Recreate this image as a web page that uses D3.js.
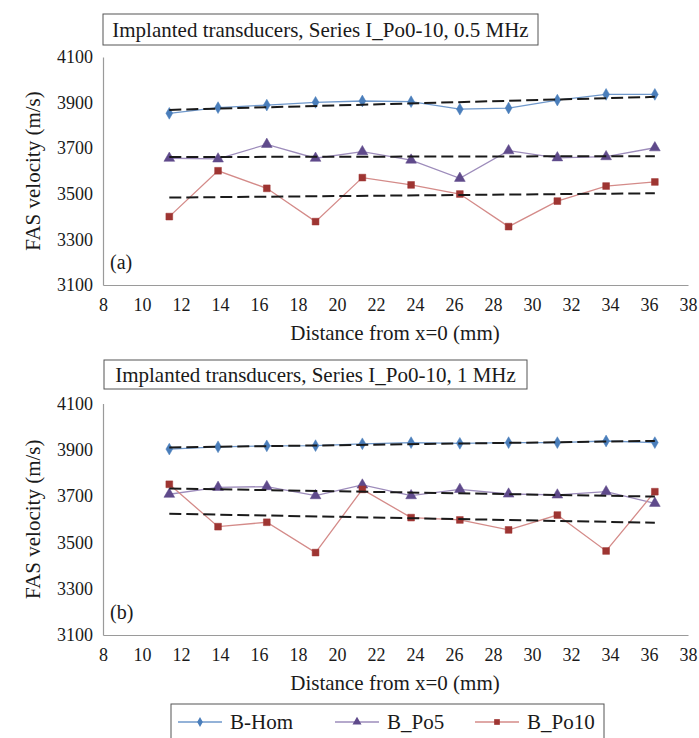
<!DOCTYPE html>
<html>
<head>
<meta charset="utf-8">
<script src="https://cdn.jsdelivr.net/npm/d3@7"></script>
<style>
  html, body { margin: 0; padding: 0; background: #fff; }
  svg { display: block; }
  svg text { font-family: "Liberation Serif", "Times New Roman", serif !important; fill: #1a1a1a; }
</style>
</head>
<body>
<svg id="chart" width="699" height="738"></svg>
<script>
// ---------- data ----------
const distances = [11.4, 13.9, 16.4, 18.9, 21.3, 23.8, 26.3, 28.8, 31.3, 33.8, 36.3];
const seriesNames = ["B-Hom", "B_Po5", "B_Po10"];

// Panel (a) 0.5 MHz
const homA  = [3853, 3878, 3889, 3901, 3907, 3904, 3871, 3876, 3911, 3936, 3936];
const po5A  = [3656, 3653, 3717, 3656, 3685, 3648, 3568, 3689, 3658, 3663, 3702];
const po10A = [3400, 3601, 3524, 3378, 3571, 3539, 3499, 3356, 3468, 3534, 3552];

// Panel (b) 1 MHz
const homB  = [3903, 3913, 3917, 3918, 3926, 3931, 3928, 3931, 3931, 3938, 3931];
const po5B  = [3708, 3738, 3741, 3702, 3748, 3702, 3729, 3709, 3705, 3719, 3669];
const po10B = [3751, 3568, 3587, 3456, 3729, 3607, 3597, 3554, 3618, 3463, 3719];

const xTickValues = [8, 10, 12, 14, 16, 18, 20, 22, 24, 26, 28, 30, 32, 34, 36, 38];
const yTickValues = [3100, 3300, 3500, 3700, 3900, 4100];

const titles = ["Implanted transducers, Series I_Po0-10, 0.5 MHz",
                "Implanted transducers, Series I_Po0-10, 1 MHz"];
const panelLabels = ["(a)", "(b)"];
const xTitle = "Distance from x=0 (mm)";
const yTitle = "FAS velocity (m/s)";

// ---------- styles ----------
const styles = {
  "B-Hom":  { line: "#6f98cb", fill: "#4a7ebb", shape: d3.symbolDiamond, size: 40 },
  "B_Po5":  { line: "#9d8cbb", fill: "#5f4a8b", shape: d3.symbolTriangle, size: 50 },
  "B_Po10": { line: "#d48b89", fill: "#9e3532", shape: d3.symbolSquare, size: 46 }
};

const svg = d3.select("#chart");

function linFit(xs, ys) {
  const n = xs.length;
  const mx = d3.mean(xs), my = d3.mean(ys);
  let sxy = 0, sxx = 0;
  for (let i = 0; i < n; i++) { sxy += (xs[i]-mx)*(ys[i]-my); sxx += (xs[i]-mx)*(xs[i]-mx); }
  const b = sxy / sxx, a = my - b * mx;
  return x => a + b * x;
}

function drawPanel(cfg) {
  const g = svg.append("g");
  const x = d3.scaleLinear().domain([8, 38]).range([103, 688]);
  const y = d3.scaleLinear().domain([3100, 4100]).range([cfg.bottom, cfg.top]);

  // title box
  g.append("rect").attr("x", cfg.boxX).attr("y", cfg.boxY)
    .attr("width", cfg.boxW).attr("height", cfg.boxH)
    .attr("fill", "#fff").attr("stroke", "#555").attr("stroke-width", 1);
  g.append("text").attr("x", cfg.boxX + cfg.boxW/2).attr("y", cfg.boxY + cfg.boxH/2 + 7)
    .attr("text-anchor", "middle").style("font-size", "21px").text(cfg.title);

  // axes
  const xAxis = d3.axisBottom(x).tickValues(xTickValues).tickSize(0).tickPadding(13)
    .tickFormat(d3.format("d"));
  const gx = g.append("g").attr("transform", `translate(0,${cfg.bottom})`).call(xAxis);
  gx.select(".domain").attr("stroke", "#9a9a9a").attr("stroke-width", 1.2);
  gx.selectAll("text").style("font-size", "18px");

  const yAxis = d3.axisLeft(y).tickValues(yTickValues).tickSize(0).tickPadding(10)
    .tickFormat(d3.format("d"));
  const gy = g.append("g").attr("transform", `translate(103,0)`).call(yAxis);
  gy.select(".domain").attr("stroke", "#9a9a9a").attr("stroke-width", 1.2);
  gy.selectAll("text").style("font-size", "18px");

  // axis titles
  g.append("text").attr("x", 395).attr("y", cfg.bottom + 55)
    .attr("text-anchor", "middle").style("font-size", "21px").text(xTitle);
  g.append("text")
    .attr("transform", `translate(40,${(cfg.top + cfg.bottom)/2}) rotate(-90)`)
    .attr("text-anchor", "middle").style("font-size", "21px").text(yTitle);

  // panel label
  g.append("text").attr("x", 110).attr("y", cfg.bottom - 16)
    .style("font-size", "20px").text(cfg.label);

  const series = [
    { name: "B-Hom", vals: cfg.hom },
    { name: "B_Po5", vals: cfg.po5 },
    { name: "B_Po10", vals: cfg.po10 }
  ];

  const line = d3.line().x(d => x(d[0])).y(d => y(d[1]));

  // data lines
  series.forEach(s => {
    const pts = distances.map((d, i) => [d, s.vals[i]]);
    g.append("path").attr("d", line(pts)).attr("fill", "none")
      .attr("stroke", styles[s.name].line).attr("stroke-width", 1.3);
  });

  // markers
  series.forEach(s => {
    const st = styles[s.name];
    const sym = d3.symbol().type(st.shape).size(st.size);
    g.selectAll(null).data(distances.map((d, i) => [d, s.vals[i]])).enter()
      .append("path").attr("d", sym)
      .attr("transform", d => `translate(${x(d[0])},${y(d[1])})`)
      .attr("fill", st.fill).attr("stroke", st.fill).attr("stroke-width", 0.5);
  });

  // linear trendlines (dashed)
  series.forEach(s => {
    const f = linFit(distances, s.vals);
    const x0 = distances[0], x1 = distances[distances.length - 1];
    g.append("path").attr("d", line([[x0, f(x0)], [x1, f(x1)]]))
      .attr("fill", "none").attr("stroke", "#1a1a1a").attr("stroke-width", 2)
      .attr("stroke-dasharray", "12,5");
  });
}

drawPanel({ top: 57, bottom: 285, boxX: 103, boxY: 14, boxW: 435, boxH: 31,
            title: titles[0], label: panelLabels[0], hom: homA, po5: po5A, po10: po10A });
drawPanel({ top: 403.5, bottom: 635, boxX: 104, boxY: 360, boxW: 423, boxH: 29,
            title: titles[1], label: panelLabels[1], hom: homB, po5: po5B, po10: po10B });

// legend
const lg = svg.append("g");
lg.append("rect").attr("x", 171).attr("y", 704).attr("width", 433).attr("height", 40)
  .attr("fill", "#fff").attr("stroke", "#555").attr("stroke-width", 1);
const legendX = [178, 335, 475];
seriesNames.forEach((name, i) => {
  const st = styles[name];
  const lx = legendX[i], ly = 722;
  lg.append("line").attr("x1", lx).attr("x2", lx + 44).attr("y1", ly).attr("y2", ly)
    .attr("stroke", st.line).attr("stroke-width", 1.3);
  lg.append("path").attr("d", d3.symbol().type(st.shape).size(st.size * 0.7))
    .attr("transform", `translate(${lx + 22},${ly})`).attr("fill", st.fill);
  lg.append("text").attr("x", lx + 52).attr("y", ly + 7).style("font-size", "21px").text(name);
});
</script>
</body>
</html>
